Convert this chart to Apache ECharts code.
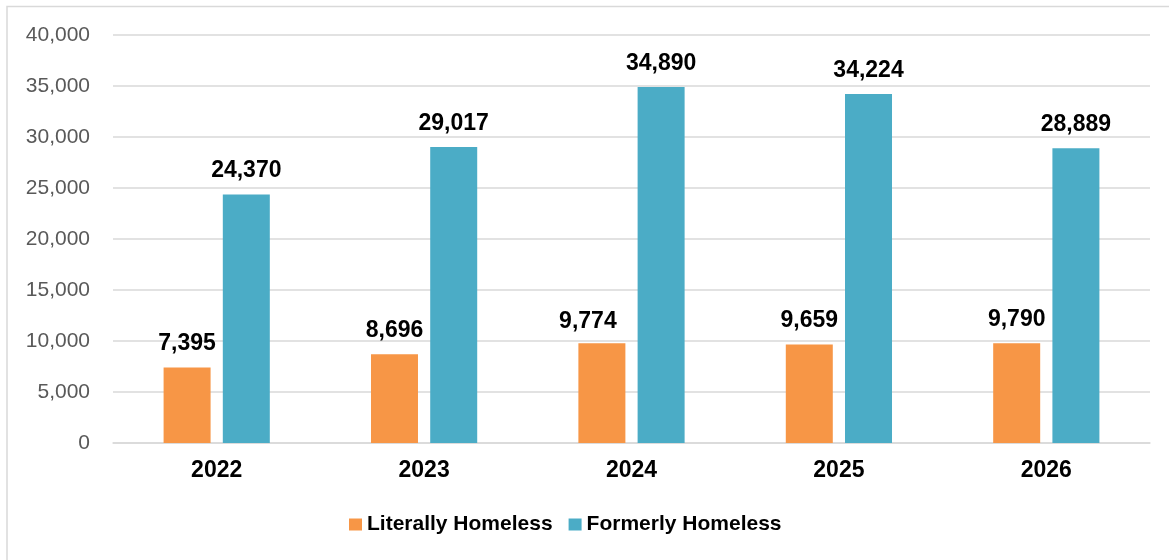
<!DOCTYPE html>
<html>
<head>
<meta charset="utf-8">
<script src="https://cdn.jsdelivr.net/npm/echarts@6/dist/echarts.min.js"></script>
<style>
  html, body { margin: 0; padding: 0; background: #ffffff; }
  #chart { width: 1169px; height: 560px; }
</style>
</head>
<body>
<div id="chart"></div>
<script>
// Yearly counts of people served, by housing status
const years = ['2022', '2023', '2024', '2025', '2026'];
const literallyHomeless = [7395, 8696, 9774, 9659, 9790];
const formerlyHomeless = [24370, 29017, 34890, 34224, 28889];
const seriesNames = ['Literally Homeless', 'Formerly Homeless'];
const yTicks = { min: 0, max: 40000, interval: 5000 };

const fontFamily = '"Liberation Sans", Arial, sans-serif';
const fmt = v => v.toLocaleString('en-US');

const labelStyle = {
  show: true,
  position: 'top',
  distance: 12,
  color: '#000000',
  fontFamily: fontFamily,
  fontWeight: 'bold',
  fontSize: 23,
  formatter: p => fmt(p.value)
};

// 2024's orange label sits a little to the left of its bar
const orangeData = literallyHomeless.map((v, i) =>
  i === 2 ? { value: v, label: { offset: [-14, 2] } } : v
);

const chart = echarts.init(document.getElementById('chart'), null, { renderer: 'canvas' });
chart.setOption({
  backgroundColor: '#ffffff',
  animation: false,
  graphic: [{
    type: 'polyline',
    shape: { points: [[7, 600], [7, 6.5], [1200, 6.5]] },
    style: { stroke: '#d9d9d9', lineWidth: 1.5, fill: null },
    silent: true
  }],
  grid: { left: 113, right: 19, top: 35, bottom: 117, containLabel: false },
  legend: {
    data: seriesNames,
    left: 349,
    top: 514,
    padding: 0,
    icon: 'rect',
    itemWidth: 13,
    itemHeight: 12,
    itemGap: 16,
    textStyle: { color: '#000000', fontFamily: fontFamily, fontWeight: 'bold', fontSize: 21 }
  },
  xAxis: {
    type: 'category',
    data: years,
    axisLine: { show: true, lineStyle: { color: '#d9d9d9', width: 1.5 } },
    axisTick: { show: false },
    axisLabel: { color: '#000000', fontFamily: fontFamily, fontWeight: 'bold', fontSize: 23, margin: 16 }
  },
  yAxis: {
    type: 'value',
    min: yTicks.min,
    max: yTicks.max,
    interval: yTicks.interval,
    axisLine: { show: false },
    axisTick: { show: false },
    splitLine: { lineStyle: { color: '#d9d9d9', width: 1.5 } },
    axisLabel: { color: '#595959', fontFamily: fontFamily, fontSize: 21, margin: 23, formatter: v => fmt(v) }
  },
  series: [
    {
      name: seriesNames[0],
      type: 'bar',
      data: orangeData,
      barWidth: 47,
      barGap: '26%',
      itemStyle: { color: '#F79646' },
      label: labelStyle
    },
    {
      name: seriesNames[1],
      type: 'bar',
      data: formerlyHomeless,
      barWidth: 47,
      barGap: '26%',
      itemStyle: { color: '#4BACC6' },
      label: labelStyle
    }
  ]
});
</script>
</body>
</html>
